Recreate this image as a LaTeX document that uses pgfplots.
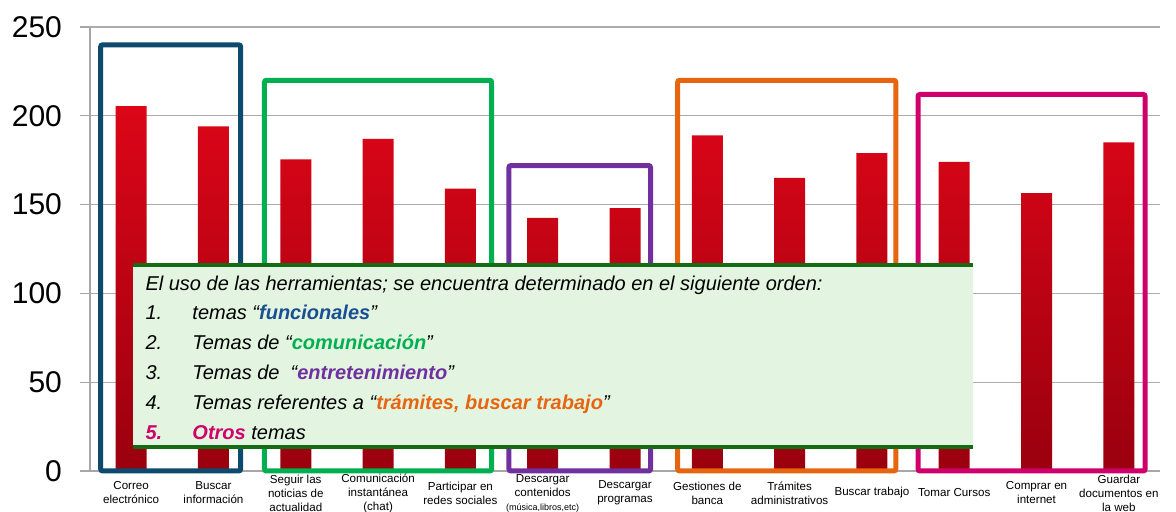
\documentclass[border=0pt]{standalone}
\usepackage{pgfplots}
\pgfplotsset{compat=1.18}
\usepackage{fontspec}
\setmainfont{Liberation Sans}

\definecolor{gBlue}{HTML}{0E4A6E}
\definecolor{gGreen}{HTML}{00B050}
\definecolor{gPurple}{HTML}{7030A0}
\definecolor{gOrange}{HTML}{E8650F}
\definecolor{gMagenta}{HTML}{CF006C}
\definecolor{boxFill}{HTML}{E3F5E1}
\definecolor{boxLine}{HTML}{146B14}
\definecolor{txtBlue}{HTML}{1B4F93}
\definecolor{barTop}{HTML}{DC0618}
\definecolor{barBot}{HTML}{9A000E}

\begin{document}
\begin{tikzpicture}
\begin{axis}[
  scale only axis, width=535pt, height=222pt,
  xmin=-0.5, xmax=12.5, ymin=0, ymax=250,
  axis x line*=bottom, axis y line*=left,
  axis line style={draw=gray!70, line width=0.6pt, -},
  ytick={0,50,...,250},
  ymajorgrids, grid style={gray!65, line width=0.6pt},
  tick align=outside, major tick length=5pt,
  ytick style={gray!70, line width=0.6pt},
  xtick=data, xtick style={draw=none},
  yticklabel style={font=\fontsize{15}{15}\selectfont, xshift=-5.5pt},
  /pgf/number format/assume math mode=true,
  xticklabel style={font=\fontsize{5.8}{7}\selectfont, align=center, anchor=center, yshift=-6pt},
  xticklabels={
    {Correo\\electrónico},
    {Buscar\\información},
    {Seguir las\\noticias de\\actualidad},
    {Comunicación\\instantánea\\(chat)},
    {Participar en\\redes sociales},
    {Descargar\\contenidos\\{\fontsize{4.5}{5}\selectfont(música,libros,etc)}},
    {Descargar\\programas},
    {Gestiones de\\banca},
    {Trámites\\administrativos},
    {Buscar trabajo},
    {Tomar Cursos},
    {Comprar en\\internet},
    {Guardar\\documentos en\\la web}},
  clip=false,
]
% bars
\addplot[ybar, bar width=15.5pt, draw=none, top color=barTop, bottom color=barBot]
  coordinates {
  (0,205.5) (1,194) (2,175.5) (3,187) (4,159) (5,142.5) (6,148)
  (7,189) (8,165) (9,179) (10,174) (11,156.5) (12,185)
  };

% group frames
\draw[gBlue, line width=2.5pt, rounded corners=1pt]
  (axis cs:-0.37,0) rectangle (axis cs:1.33,240);
\draw[gGreen, line width=2.5pt, rounded corners=1pt]
  (axis cs:1.62,0) rectangle (axis cs:4.38,220);
\draw[gPurple, line width=2.5pt, rounded corners=1pt]
  (axis cs:4.59,0) rectangle (axis cs:6.31,172);
\draw[gOrange, line width=2.5pt, rounded corners=1pt]
  (axis cs:6.64,0) rectangle (axis cs:9.29,220);
\draw[gMagenta, line width=2.5pt, rounded corners=1pt]
  (axis cs:9.56,0) rectangle (axis cs:12.32,212);

% text box
\fill[boxFill] (axis cs:0.02,13.5) rectangle (axis cs:10.23,116);
\draw[boxLine, line width=2pt] (axis cs:0.02,116) -- (axis cs:10.23,116);
\draw[boxLine, line width=2pt] (axis cs:0.02,13.5) -- (axis cs:10.23,13.5);

\begin{scope}[every node/.style={anchor=west, inner sep=0pt, text height=1.5ex, text depth=0.3ex,
    font=\fontsize{10}{12}\selectfont\itshape}]
\node at (axis cs:0.17,105.3) {El uso de las herramientas; se encuentra determinado en el siguiente orden:};
\node at (axis cs:0.17,89.0) {1.};
\node at (axis cs:0.74,89.0) {temas “\textcolor{txtBlue}{\bfseries funcionales}”};
\node at (axis cs:0.17,72.1) {2.};
\node at (axis cs:0.74,72.1) {Temas de “\textcolor{gGreen}{\bfseries comunicación}”};
\node at (axis cs:0.17,55.2) {3.};
\node at (axis cs:0.74,55.2) {Temas de \ “\textcolor{gPurple}{\bfseries entretenimiento}”};
\node at (axis cs:0.17,38.3) {4.};
\node at (axis cs:0.74,38.3) {Temas referentes a “\textcolor{gOrange}{\bfseries trámites, buscar trabajo}”};
\node[text=gMagenta] at (axis cs:0.17,21.4) {\bfseries 5.};
\node at (axis cs:0.74,21.4) {\textcolor{gMagenta}{\bfseries Otros} temas};
\end{scope}
\end{axis}
\pgfresetboundingbox
\useasboundingbox (-45pt,-20.5pt) rectangle (543pt,235.5pt);
\end{tikzpicture}
\end{document}
